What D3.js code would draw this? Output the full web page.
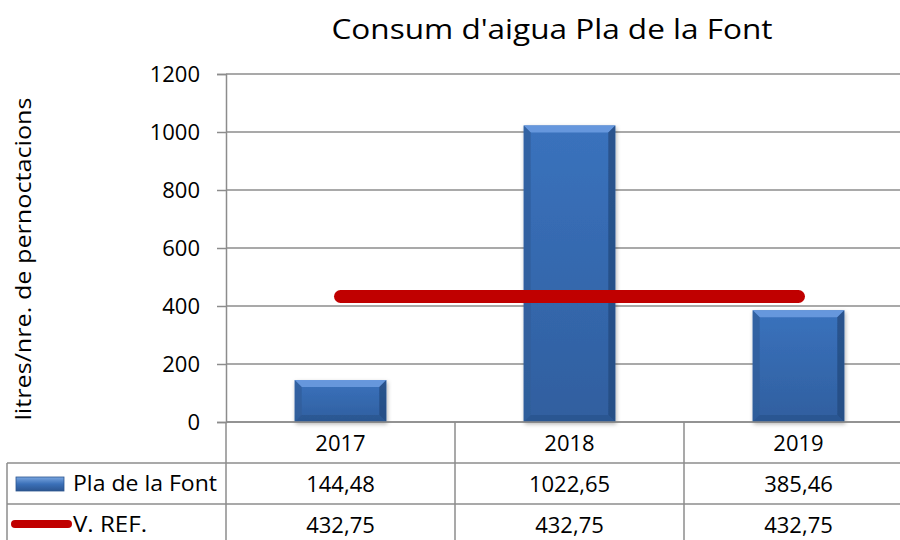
<!DOCTYPE html>
<html>
<head>
<meta charset="utf-8">
<script src="https://cdnjs.cloudflare.com/ajax/libs/d3/7.8.5/d3.min.js"></script>
<style>
  body { margin: 0; background: #fff; }
  svg { display: block; font-family: 'Open Sans', Lato, sans-serif; }
</style>
</head>
<body>
<svg width="900" height="540"></svg>
<script>
// chart values
var years = ['2017', '2018', '2019']
var consum = [144.48, 1022.65, 385.46]
var valorRef = [432.75, 432.75, 432.75]
var consumLabels = ['144,48', '1022,65', '385,46']
var refLabels = ['432,75', '432,75', '432,75']
var yTicks = [0, 200, 400, 600, 800, 1000, 1200]

var svg = d3.select('svg')
var grey = '#8c8c8c'
var fs = 22

var x = d3.scaleBand().domain(years).range([226, 913]).paddingInner(0).paddingOuter(0)
var y = d3.scaleLinear().domain([0, 1200]).range([422, 74])

// gradients for the bevelled bars
var defs = svg.append('defs')
var g1 = defs.append('linearGradient').attr('id', 'barFill').attr('x1', 0).attr('y1', 0).attr('x2', 0).attr('y2', 1)
g1.append('stop').attr('offset', '0%').attr('stop-color', '#3a72bd')
g1.append('stop').attr('offset', '100%').attr('stop-color', '#305f9f')
var g2 = defs.append('linearGradient').attr('id', 'keyFill').attr('x1', 0).attr('y1', 0).attr('x2', 0).attr('y2', 1)
g2.append('stop').attr('offset', '0%').attr('stop-color', '#7aa6e0')
g2.append('stop').attr('offset', '50%').attr('stop-color', '#3b70b8')
g2.append('stop').attr('offset', '100%').attr('stop-color', '#2c5590')
var sh = defs.append('filter').attr('id', 'shadow').attr('x', '-20%').attr('y', '-20%').attr('width', '140%').attr('height', '140%')
sh.append('feDropShadow').attr('dx', 1).attr('dy', 2).attr('stdDeviation', 2).attr('flood-color', '#000').attr('flood-opacity', 0.3)

// title
svg.append('text')
    .attr('x', 552).attr('y', 39)
    .attr('text-anchor', 'middle')
    .attr('font-size', 28)
    .attr('textLength', 441).attr('lengthAdjust', 'spacingAndGlyphs')
    .attr('fill', '#000')
    .text("Consum d'aigua Pla de la Font")

// y axis label
svg.append('text')
    .attr('transform', 'translate(31,259) rotate(-90)')
    .attr('text-anchor', 'middle')
    .attr('font-size', 21)
    .attr('textLength', 323).attr('lengthAdjust', 'spacingAndGlyphs')
    .attr('fill', '#000')
    .text('litres/nre. de pernoctacions')

// gridlines + y axis
var yAxis = svg.append('g')
    .attr('transform', 'translate(226,0)')
    .call(d3.axisLeft(y).tickValues(yTicks).tickSize(9).tickPadding(17).tickFormat(d3.format('d')))
yAxis.attr('font-family', null).attr('font-size', fs)
yAxis.select('.domain').attr('stroke', grey).attr('stroke-width', 1.5)
yAxis.selectAll('.tick line').attr('stroke', grey).attr('stroke-width', 1.5)
yAxis.selectAll('.tick text').attr('fill', '#000').attr('dy', '0.35em')

svg.append('g').selectAll('line')
    .data(yTicks)
    .join('line')
    .attr('x1', 226).attr('x2', 913)
    .attr('y1', function(d) { return y(d) }).attr('y2', function(d) { return y(d) })
    .attr('stroke', grey).attr('stroke-width', 1.5)

// bars
var bw = x.bandwidth() * 0.4
var bev = 7
var bars = svg.append('g').selectAll('g')
    .data(consum)
    .join('g')
    .attr('filter', 'url(#shadow)')

bars.append('rect')
    .attr('x', function(d, i) { return x(years[i]) + (x.bandwidth() - bw) / 2 })
    .attr('y', function(d) { return y(d) })
    .attr('width', bw)
    .attr('height', function(d) { return y(0) - y(d) })
    .attr('fill', 'url(#barFill)')

function bevel(side) {
    return function(d, i) {
        var x0 = x(years[i]) + (x.bandwidth() - bw) / 2, x1 = x0 + bw
        var y0 = y(d), y1 = y(0)
        var b = Math.min(bev, (y1 - y0) / 2)
        var p
        if (side === 'top') p = [[x0, y0], [x1, y0], [x1 - b, y0 + b], [x0 + b, y0 + b]]
        if (side === 'left') p = [[x0, y0], [x0 + b, y0 + b], [x0 + b, y1 - b], [x0, y1]]
        if (side === 'right') p = [[x1, y0], [x1 - b, y0 + b], [x1 - b, y1 - b], [x1, y1]]
        if (side === 'bottom') p = [[x0, y1], [x0 + b, y1 - b], [x1 - b, y1 - b], [x1, y1]]
        return 'M' + p.join('L') + 'Z'
    }
}
bars.append('path').attr('d', bevel('top')).attr('fill', '#6b9be0').attr('opacity', 0.9)
bars.append('path').attr('d', bevel('left')).attr('fill', '#2f5c99').attr('opacity', 0.7)
bars.append('path').attr('d', bevel('right')).attr('fill', '#24497d').attr('opacity', 0.75)
bars.append('path').attr('d', bevel('bottom')).attr('fill', '#2a5189').attr('opacity', 0.6)

// reference line
svg.append('path')
    .datum(valorRef)
    .attr('fill', 'none')
    .attr('stroke', '#c00000')
    .attr('stroke-width', 13)
    .attr('stroke-linecap', 'round')
    .attr('d', d3.line()
        .x(function(d, i) { return x(years[i]) + x.bandwidth() / 2 })
        .y(function(d) { return y(d) }))

// data table
var rowTop = [422, 463, 504]
var rowBottom = 545
var table = svg.append('g')
table.append('line').attr('x1', 226).attr('x2', 913).attr('y1', rowTop[0]).attr('y2', rowTop[0])
table.selectAll('.hrow')
    .data(rowTop.slice(1))
    .join('line')
    .attr('x1', 7).attr('x2', 913)
    .attr('y1', function(d) { return d }).attr('y2', function(d) { return d })
table.append('line').attr('x1', 7).attr('x2', 7).attr('y1', rowTop[1]).attr('y2', rowBottom)
table.selectAll('.vcol')
    .data(years)
    .join('line')
    .attr('x1', function(d) { return x(d) }).attr('x2', function(d) { return x(d) })
    .attr('y1', rowTop[0]).attr('y2', rowBottom)
table.selectAll('line').attr('stroke', grey).attr('stroke-width', 1.5)

var rows = [years, consumLabels, refLabels]
rows.forEach(function(r, k) {
    table.append('g').selectAll('text')
        .data(r)
        .join('text')
        .attr('x', function(d, i) { return x(years[i]) + x.bandwidth() / 2 })
        .attr('y', rowTop[k] + 21)
        .attr('dy', '0.35em')
        .attr('text-anchor', 'middle')
        .attr('font-size', fs)
        .attr('fill', '#000')
        .text(function(d) { return d })
})

// legend keys inside the table
table.append('rect')
    .attr('x', 16).attr('y', 477).attr('width', 48).attr('height', 14)
    .attr('fill', 'url(#keyFill)').attr('stroke', '#2c5590').attr('stroke-width', 0.8)
table.append('line')
    .attr('x1', 15).attr('x2', 68).attr('y1', 524).attr('y2', 524)
    .attr('stroke', '#c00000').attr('stroke-width', 8).attr('stroke-linecap', 'round')
table.append('text').attr('x', 73).attr('y', 484).attr('dy', '0.35em')
    .attr('font-size', 21).attr('textLength', 144).attr('lengthAdjust', 'spacingAndGlyphs')
    .attr('fill', '#000').text('Pla de la Font')
table.append('text').attr('x', 73).attr('y', 525).attr('dy', '0.35em')
    .attr('font-size', 21).attr('textLength', 74).attr('lengthAdjust', 'spacingAndGlyphs')
    .attr('fill', '#000').text('V. REF.')
</script>
</body>
</html>
